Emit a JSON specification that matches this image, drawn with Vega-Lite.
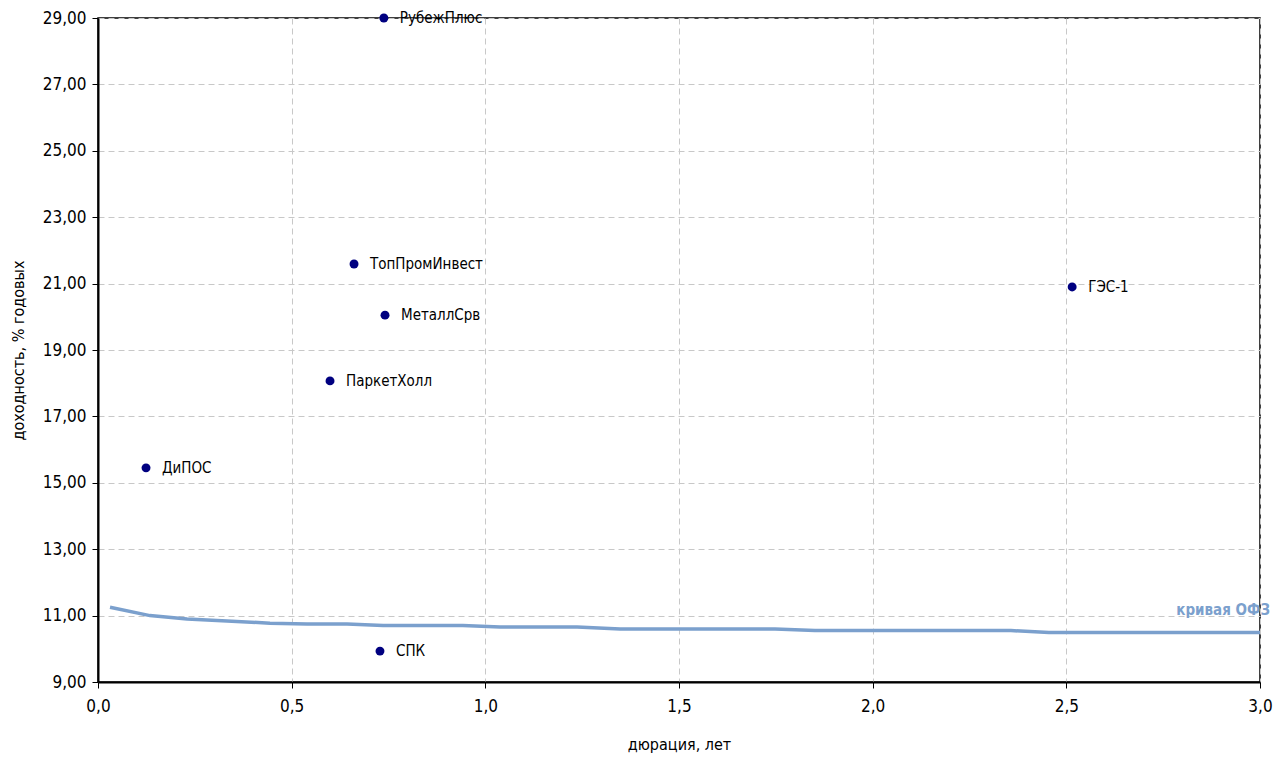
{
  "$schema": "https://vega.github.io/schema/vega-lite/v6.json",
  "width": 1162,
  "height": 664,
  "autosize": "none",
  "padding": {"left": 98, "top": 18, "right": 20, "bottom": 81},
  "background": "white",
  "config": {
    "view": {"stroke": "black", "strokeWidth": 1.5},
    "font": "DejaVu Sans Condensed",
    "axis": {
      "domainColor": "black",
      "domainWidth": 2,
      "tickColor": "black",
      "tickSize": 6,
      "gridColor": "#c8c8c8",
      "gridDash": [6, 4],
      "gridWidth": 1,
      "labelFont": "DejaVu Sans Condensed",
      "labelFontSize": 17,
      "labelColor": "black",
      "labelFlush": false,
      "titleFont": "DejaVu Sans Condensed",
      "titleFontSize": 16,
      "titleFontWeight": "normal",
      "titleColor": "black"
    }
  },
  "datasets": {
    "bonds": [
      {"name": "РубежПлюс", "dur": 0.738, "yld": 29.0},
      {"name": "ТопПромИнвест", "dur": 0.661, "yld": 21.59},
      {"name": "МеталлСрв", "dur": 0.741, "yld": 20.05},
      {"name": "ПаркетХолл", "dur": 0.599, "yld": 18.07},
      {"name": "ДиПОС", "dur": 0.124, "yld": 15.45},
      {"name": "ГЭС-1", "dur": 2.515, "yld": 20.9},
      {"name": "СПК", "dur": 0.728, "yld": 9.93}
    ],
    "ofz": [
      {"dur": 0.031, "yld": 11.25},
      {"dur": 0.134, "yld": 11.0},
      {"dur": 0.23, "yld": 10.9},
      {"dur": 0.333, "yld": 10.84},
      {"dur": 0.444, "yld": 10.77},
      {"dur": 0.54, "yld": 10.75},
      {"dur": 0.643, "yld": 10.75},
      {"dur": 0.736, "yld": 10.7},
      {"dur": 0.942, "yld": 10.7},
      {"dur": 1.038, "yld": 10.66},
      {"dur": 1.237, "yld": 10.66},
      {"dur": 1.348, "yld": 10.6},
      {"dur": 1.748, "yld": 10.6},
      {"dur": 1.851, "yld": 10.55},
      {"dur": 2.357, "yld": 10.55},
      {"dur": 2.455, "yld": 10.49},
      {"dur": 3.0, "yld": 10.49}
    ],
    "ofzlabel": [
      {"label": "кривая ОФЗ", "dur": 3.0, "yld": 11.0}
    ]
  },
  "layer": [
    {
      "data": {"name": "ofz"},
      "mark": {"type": "line", "color": "#7BA0CD", "strokeWidth": 3.5, "clip": false},
      "encoding": {
        "x": {
          "field": "dur", "type": "quantitative",
          "scale": {"domain": [0, 3], "nice": false, "zero": false},
          "axis": {
            "title": "дюрация, лет",
            "values": [0, 0.5, 1, 1.5, 2, 2.5, 3],
            "labelExpr": "replace(format(datum.value, '.1f'), '.', ',')",
            "labelPadding": 10,
            "titlePadding": 22,
            "grid": true
          }
        },
        "y": {
          "field": "yld", "type": "quantitative",
          "scale": {"domain": [9, 29], "nice": false, "zero": false},
          "axis": {
            "title": "доходность, % годовых",
            "values": [9, 11, 13, 15, 17, 19, 21, 23, 25, 27, 29],
            "labelExpr": "replace(format(datum.value, '.2f'), '.', ',')",
            "labelPadding": 6,
            "titlePadding": 16,
            "grid": true
          }
        }
      }
    },
    {
      "mark": {"type": "rule", "color": "black", "strokeWidth": 1.5},
      "encoding": {"y": {"datum": 29}}
    },
    {
      "mark": {"type": "rule", "color": "black", "strokeWidth": 1.5},
      "encoding": {"x": {"datum": 3}}
    },
    {
      "data": {"name": "ofzlabel"},
      "mark": {"type": "text", "align": "right", "baseline": "bottom", "dx": 10, "dy": 2, "fontSize": 15, "fontWeight": "bold", "color": "#7BA0CD", "clip": false, "font": "DejaVu Sans Condensed"},
      "encoding": {
        "x": {"field": "dur", "type": "quantitative"},
        "y": {"field": "yld", "type": "quantitative"},
        "text": {"field": "label"}
      }
    },
    {
      "data": {"name": "bonds"},
      "mark": {"type": "point", "filled": true, "color": "#000080", "opacity": 1, "size": 80, "clip": false},
      "encoding": {
        "x": {"field": "dur", "type": "quantitative"},
        "y": {"field": "yld", "type": "quantitative"}
      }
    },
    {
      "data": {"name": "bonds"},
      "mark": {"type": "text", "align": "left", "baseline": "middle", "dx": 16, "fontSize": 15, "color": "black", "clip": false, "font": "DejaVu Sans Condensed"},
      "encoding": {
        "x": {"field": "dur", "type": "quantitative"},
        "y": {"field": "yld", "type": "quantitative"},
        "text": {"field": "name"}
      }
    }
  ]
}
